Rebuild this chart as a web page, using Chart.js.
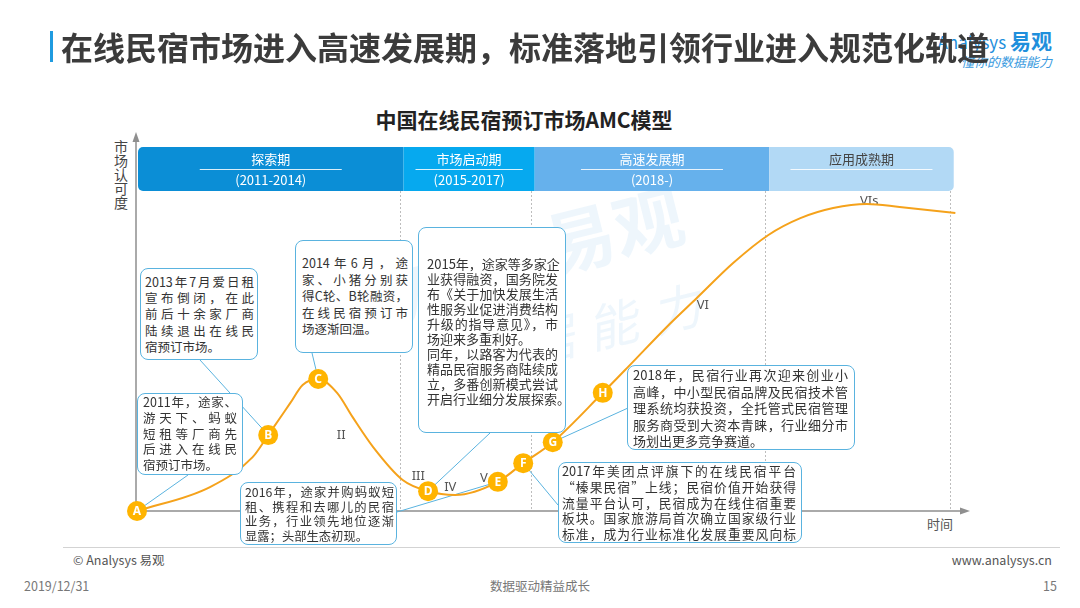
<!DOCTYPE html>
<html lang="zh-CN">
<head>
<meta charset="utf-8">
<title>中国在线民宿预订市场AMC模型</title>
<script src="https://cdn.jsdelivr.net/npm/chart.js@4.4.1/dist/chart.umd.min.js"></script>
<style>
  body { margin: 0; background: #fff; font-family: "Noto Sans CJK SC", "Noto Sans", sans-serif; }
  #page { position: relative; width: 1080px; height: 608px; overflow: hidden; }
  #chartBox { position: absolute; left: 0; top: 0; width: 1080px; height: 608px; z-index: 1; }
  .abs { position: absolute; white-space: nowrap; }
  .wm { color: rgba(120, 185, 235, 0.13); z-index: 0; }
  .note { position: absolute; z-index: 2; box-sizing: border-box; background: #fff;
          border: 1px solid #5ab3df; border-radius: 8px; color: #333; overflow: visible; }
  .note div { white-space: nowrap; text-align: justify; text-align-last: justify; }
  .note div.plain { text-align-last: left; }
</style>
</head>
<body>
<div id="page">
  <div class="abs wm" style="left:380px;top:196px;font-size:70px;font-weight:bold;transform:rotate(-14deg);">ysys 易观</div>
  <div class="abs wm" style="left:455px;top:292px;font-size:50px;font-style:italic;letter-spacing:16px;transform:rotate(-14deg);">数据能力</div>

  <div class="abs" style="right:28px;top:26px;color:#1f8fdc;line-height:28px;"><span style="font-size:17px;">Analysys </span><span style="font-size:21px;font-weight:bold;">易观</span></div>
  <div class="abs" style="right:28px;top:52px;color:#3a9be0;font-size:13px;font-style:italic;line-height:20px;">懂你的数据能力</div>
  <div class="abs" style="left:50px;top:31px;width:3px;height:31px;background:#1f9be0;"></div>
  <div class="abs" style="left:61px;top:24px;font-size:32px;font-weight:bold;color:#3b3b3b;line-height:44px;z-index:3;">在线民宿市场进入高速发展期，标准落地引领行业进入规范化轨道</div>

  <div class="abs" style="left:0;width:1048px;top:104px;text-align:center;font-size:21px;font-weight:bold;color:#222;line-height:30px;">中国在线民宿预订市场AMC模型</div>
  <div class="abs" style="left:114px;top:140px;writing-mode:vertical-rl;font-size:14px;line-height:14px;color:#444;">市场认可度</div>
  <div class="abs" style="left:927px;top:515px;font-size:13px;line-height:18px;color:#555;">时间</div>

  <div id="chartBox"><canvas id="chart1"></canvas></div>

  <div class="abs" style="left:63px;top:547px;width:997px;height:1px;background:#d3d3d3;"></div>
  <div class="abs" style="left:73px;top:551px;font-size:12.5px;line-height:18px;color:#555;">© Analysys 易观</div>
  <div class="abs" style="right:28px;top:551px;font-size:12.5px;line-height:18px;color:#555;">www.analysys.cn</div>
  <div class="abs" style="left:24px;top:577px;font-size:12.5px;line-height:18px;color:#777;">2019/12/31</div>
  <div class="abs" style="left:0;width:1080px;top:577px;text-align:center;font-size:12.5px;line-height:18px;color:#777;">数据驱动精益成长</div>
  <div class="abs" style="right:23px;top:577px;font-size:12.5px;line-height:18px;color:#777;">15</div>
</div>

<script>
// AMC curve (x = time, y = market recognition, both 0-100)
const curveX = [0, 8.9, 14.1, 16.0, 18.7, 20.2, 22.1, 24.4, 26.3, 28.8, 32.4, 35.5, 38.8, 44.0, 47.1, 50.7, 56.8,
                60.1, 64.6, 68.3, 72.7, 77.0, 80.9, 84.9, 89.0, 93.0, 99.8];
const curveY = [0, 6.4, 14.4, 20.3, 28.9, 33.7, 35.3, 31.6, 25.1, 17.1, 8.3, 5.3, 4.3, 7.8, 12.8, 18.4, 31.6,
                39.0, 49.2, 57.0, 66.3, 73.8, 78.3, 81.0, 82.1, 81.3, 79.7];

// milestones on the curve
const milestoneLabels = ['A', 'B', 'C', 'D', 'E', 'F', 'G', 'H'];
const milestoneX = [0, 16.0, 22.1, 35.5, 44.0, 47.1, 50.7, 56.8];
const milestoneY = [0, 20.3, 35.3, 5.3, 7.8, 12.8, 18.4, 31.6];

// stage numerals along the curve
const stageLabels = ['II', 'III', 'IV', 'V', 'VI', 'VIs'];
const stageX = [24.9, 34.3, 38.2, 42.3, 69.0, 89.3];
const stageY = [20.3, 9.4, 6.4, 8.8, 55.1, 82.9];

// phases
const phaseNames = ['探索期', '市场启动期', '高速发展期', '应用成熟期'];
const phaseYears = ['(2011-2014)', '(2015-2017)', '(2018-)', ''];
const phaseEdges = [0, 32.5, 48.5, 77.1, 99.6];
const phaseColors = ['#0b8ed6', '#06a9ef', '#66b1ec', '#b2d9f5'];
const phaseText = ['#fff', '#fff', '#fff', '#444'];

// annotation boxes (layout in page pixels), each tied to a milestone
const notes = [
  { ms: 'A', left: 137, top: 393, w: 106, h: 82, pt: 0, pl: 5, pr: 5, fs: 12.5, lh: 15.8, ax: 188, ay: 475, plain: [4],
    lines: ['2011年，途家、', '游天下、蚂蚁', '短租等厂商先', '后进入在线民', '宿预订市场。'] },
  { ms: 'B', left: 140, top: 268, w: 118, h: 92, pt: 5, pl: 4, pr: 3, fs: 12.5, lh: 16.2, ax: 200, ay: 360, plain: [4],
    lines: ['2013年7月爱日租', '宣布倒闭，在此', '前后十余家厂商', '陆续退出在线民', '宿预订市场。'] },
  { ms: 'C', left: 295, top: 240, w: 118, h: 113, pt: 14, pl: 6, pr: 4, fs: 12.5, lh: 16.5, ax: 312, ay: 353, plain: [4],
    lines: ['2014年6月，途', '家、小猪分别获', '得C轮、B轮融资，', '在线民宿预订市', '场逐渐回温。'] },
  { ms: 'D', left: 418, top: 227, w: 148, h: 206, pt: 28, pl: 8, pr: 7, fs: 13, lh: 15, ax: 490, ay: 433, plain: [5, 9],
    lines: ['2015年，途家等多家企', '业获得融资，国务院发', '布《关于加快发展生活', '性服务业促进消费结构', '升级的指导意见》，市',
            '场迎来多重利好。', '同年，以路客为代表的', '精品民宿服务商陆续成', '立，多番创新模式尝试', '开启行业细分发展探索。'] },
  { ms: 'E', left: 240, top: 482, w: 157, h: 63, pt: 2, pl: 4, pr: 2, fs: 12.3, lh: 14.7, ax: 397, ay: 512, plain: [3],
    lines: ['2016年，途家并购蚂蚁短', '租、携程和去哪儿的民宿', '业务，行业领先地位逐渐', '显露；头部生态初现。'] },
  { ms: 'F', left: 558, top: 462, w: 244, h: 81, pt: 0, pl: 3, pr: 5, fs: 12.8, lh: 15.8, ax: 558, ay: 505, plain: [],
    lines: ['2017年美团点评旗下的在线民宿平台', '“榛果民宿”上线；民宿价值开始获得', '流量平台认可，民宿成为在线住宿重要',
            '板块。国家旅游局首次确立国家级行业', '标准，成为行业标准化发展重要风向标'] },
  { ms: 'G', left: 627, top: 365, w: 228, h: 85, pt: 1, pl: 5, pr: 6, fs: 13, lh: 16.5, ax: 628, ay: 408, plain: [4],
    lines: ['2018年，民宿行业再次迎来创业小', '高峰，中小型民宿品牌及民宿技术管', '理系统均获投资，全托管式民宿管理',
            '服务商受到大资本青睐，行业细分市', '场划出更多竞争赛道。'] }
];

const bandTop = 147, bandBottom = 191;

const page = document.getElementById('page');
notes.forEach(function (n) {
  const box = document.createElement('div');
  box.className = 'note';
  box.style.cssText = 'left:' + n.left + 'px;top:' + n.top + 'px;width:' + n.w + 'px;height:' + n.h + 'px;' +
    'padding:' + n.pt + 'px ' + n.pr + 'px 0 ' + n.pl + 'px;font-size:' + n.fs + 'px;line-height:' + n.lh + 'px;';
  n.lines.forEach(function (t, i) {
    const d = document.createElement('div');
    d.textContent = t;
    if (n.plain.indexOf(i) >= 0) d.className = 'plain';
    box.appendChild(d);
  });
  page.appendChild(box);
});

const amcDecor = {
  id: 'amcDecor',
  beforeDatasetsDraw(chart) {
    const ctx = chart.ctx, xs = chart.scales.x, ys = chart.scales.y;
    const x0 = xs.getPixelForValue(0), y0 = ys.getPixelForValue(0);
    ctx.save();

    // dashed phase dividers
    ctx.strokeStyle = '#bdbdbd';
    ctx.lineWidth = 1;
    ctx.setLineDash([2, 2]);
    for (let i = 1; i < phaseEdges.length; i++) {
      const px = Math.round(xs.getPixelForValue(phaseEdges[i])) - 3.5;
      ctx.beginPath(); ctx.moveTo(px, bandBottom); ctx.lineTo(px, y0); ctx.stroke();
    }
    ctx.setLineDash([]);

    // axes with arrows
    ctx.strokeStyle = '#8f8f8f';
    ctx.fillStyle = '#8f8f8f';
    ctx.lineWidth = 1.5;
    ctx.beginPath();
    ctx.moveTo(x0 - 1, y0); ctx.lineTo(x0 - 1, 141);
    ctx.moveTo(x0 - 1, y0); ctx.lineTo(962, y0);
    ctx.stroke();
    ctx.beginPath(); ctx.moveTo(x0 - 1, 132); ctx.lineTo(x0 - 4.5, 142); ctx.lineTo(x0 + 2.5, 142); ctx.closePath(); ctx.fill();
    ctx.beginPath(); ctx.moveTo(970, y0); ctx.lineTo(960, y0 - 3.5); ctx.lineTo(960, y0 + 3.5); ctx.closePath(); ctx.fill();

    // phase bands
    for (let i = 0; i < phaseNames.length; i++) {
      const l = xs.getPixelForValue(phaseEdges[i]) + (i === 0 ? 1 : 0);
      const r = xs.getPixelForValue(phaseEdges[i + 1]);
      const radii = i === 0 ? [5, 0, 0, 5] : (i === phaseNames.length - 1 ? [0, 5, 5, 0] : 0);
      ctx.fillStyle = phaseColors[i];
      ctx.beginPath();
      ctx.roundRect(l, bandTop, r - l, bandBottom - bandTop, radii);
      ctx.fill();
      const cx = (l + r) / 2;
      const half = Math.min(71, (r - l) / 2 - 12);
      ctx.strokeStyle = 'rgba(255,255,255,0.85)';
      ctx.lineWidth = 1;
      ctx.beginPath(); ctx.moveTo(cx - half, 169.5); ctx.lineTo(cx + half, 169.5); ctx.stroke();
      ctx.fillStyle = phaseText[i];
      ctx.font = '13px "Noto Sans CJK SC"';
      ctx.textAlign = 'center';
      ctx.textBaseline = 'middle';
      ctx.fillText(phaseNames[i], cx, 159);
      if (phaseYears[i]) ctx.fillText(phaseYears[i], cx, 180);
    }

    // stage numerals
    ctx.fillStyle = '#555';
    ctx.font = '13px "Noto Sans"';
    for (let i = 0; i < stageLabels.length; i++) {
      ctx.fillText(stageLabels[i], xs.getPixelForValue(stageX[i]), ys.getPixelForValue(stageY[i]));
    }

    // leader lines from boxes to milestones
    ctx.strokeStyle = '#5ab3df';
    ctx.lineWidth = 1;
    notes.forEach(function (n) {
      const k = milestoneLabels.indexOf(n.ms);
      ctx.beginPath();
      ctx.moveTo(n.ax, n.ay);
      ctx.lineTo(xs.getPixelForValue(milestoneX[k]), ys.getPixelForValue(milestoneY[k]));
      ctx.stroke();
    });
    ctx.restore();
  },
  afterDatasetsDraw(chart) {
    const ctx = chart.ctx, xs = chart.scales.x, ys = chart.scales.y;
    ctx.save();
    ctx.fillStyle = '#fff';
    ctx.font = 'bold 12px "Noto Sans"';
    ctx.textAlign = 'center';
    ctx.textBaseline = 'middle';
    for (let i = 0; i < milestoneLabels.length; i++) {
      ctx.fillText(milestoneLabels[i], xs.getPixelForValue(milestoneX[i]), ys.getPixelForValue(milestoneY[i]) + 0.5);
    }
    ctx.restore();
  }
};

window.onload = function () {
  let chart1 = document.getElementById('chart1').getContext('2d');

  let amcChart = new Chart(chart1, {
    type: 'line',
    data: {
      datasets: [{
        label: 'AMC曲线',
        data: curveX.map(function (x, i) { return { x: x, y: curveY[i] }; }),
        borderColor: '#f5a21b',
        borderWidth: 2,
        pointRadius: 0,
        fill: false,
        clip: false,
        cubicInterpolationMode: 'monotone',
        order: 2
      },
      {
        type: 'scatter',
        label: '事件',
        data: milestoneX.map(function (x, i) { return { x: x, y: milestoneY[i] }; }),
        backgroundColor: '#ffb400',
        borderColor: '#ffb400',
        borderWidth: 0,
        pointRadius: 10,
        pointHoverRadius: 10,
        clip: false,
        order: 1
      }]
    },
    options: {
      responsive: true,
      maintainAspectRatio: false,
      animation: false,
      events: [],
      layout: { padding: { left: 137, right: 123, top: 137, bottom: 97 } },
      scales: {
        x: { type: 'linear', min: 0, max: 100, display: false },
        y: { type: 'linear', min: 0, max: 100, display: false }
      },
      plugins: { legend: { display: false }, tooltip: { enabled: false } }
    },
    plugins: [amcDecor]
  });
};
</script>
</body>
</html>
